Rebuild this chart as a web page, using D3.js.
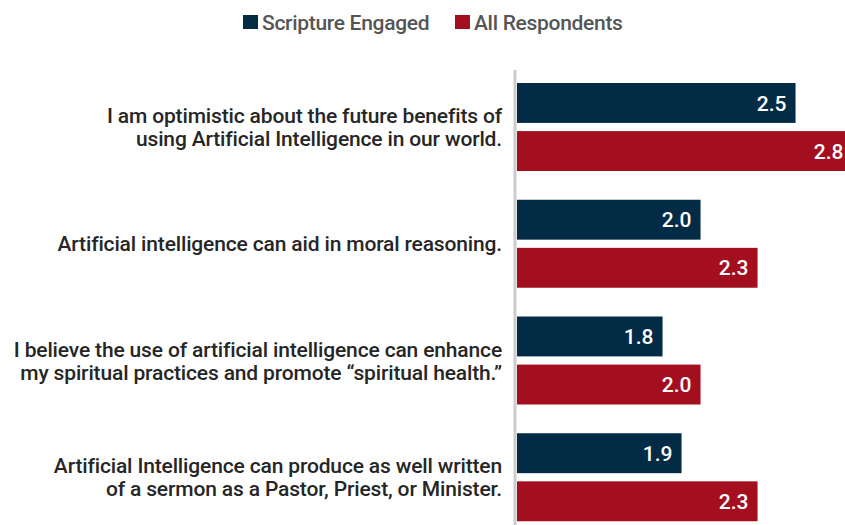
<!DOCTYPE html>
<html>
<head>
<meta charset="utf-8">
<script src="https://cdn.jsdelivr.net/npm/d3@7"></script>
<style>
  body { margin: 0; background: #fff; }
  svg { display: block; font-family: "Roboto", "Liberation Sans", sans-serif; }
</style>
</head>
<body>
<svg></svg>
<script>
// chart data
const categories = [
  "I am optimistic about the future benefits of\nusing Artificial Intelligence in our world.",
  "Artificial intelligence can aid in moral reasoning.",
  "I believe the use of artificial intelligence can enhance\nmy spiritual practices and promote \u201cspiritual health.\u201d",
  "Artificial Intelligence can produce as well written\nof a sermon as a Pastor, Priest, or Minister."
];
const seriesNames = ["Scripture Engaged", "All Respondents"];
const scriptureEngaged = [2.5, 2.0, 1.8, 1.9];
const allRespondents = [2.8, 2.3, 2.0, 2.3];

const colors = ["#032b46", "#a30f1e"];

const width = 845, height = 525;
const margin = { top: 70, left: 517, right: 0, bottom: 0 };

const svg = d3.select("svg")
    .attr("width", width)
    .attr("height", height);

const series = [scriptureEngaged, allRespondents];

const xScale = d3.scaleLinear().domain([1.034, 2.8]).range([margin.left, margin.left + 1.766 * 190]);
const yScale = d3.scaleBand().domain(d3.range(categories.length)).range([66, 533]);
const sub = d3.scaleBand().domain(d3.range(series.length)).range([0, 88]).paddingInner(0.17);

// vertical axis line
svg.append("line")
    .attr("x1", 515).attr("x2", 515)
    .attr("y1", 70).attr("y2", height)
    .attr("stroke", "#cccccc")
    .attr("stroke-width", 3);

const groups = svg.selectAll(".grp")
  .data(categories)
  .join("g")
    .attr("class", "grp")
    .attr("transform", (d, i) => `translate(0,${yScale(i) + 17})`);

series.forEach((vals, s) => {
  groups.append("rect")
    .attr("x", xScale.range()[0])
    .attr("y", sub(s))
    .attr("width", (d, i) => xScale(vals[i]) - xScale.range()[0])
    .attr("height", sub.bandwidth())
    .attr("fill", colors[s]);

  groups.append("text")
    .attr("x", (d, i) => xScale(vals[i]) - 9)
    .attr("y", sub(s) + sub.bandwidth() / 2)
    .attr("dy", "0.36em")
    .attr("text-anchor", "end")
    .attr("fill", "#fff")
    .style("font-size", "21px")
    .style("font-weight", 500)
    .text((d, i) => vals[i].toFixed(1));
});

// category labels
groups.each(function(d) {
  const lines = d.split("\n");
  const t = d3.select(this).append("text")
    .attr("text-anchor", "end")
    .attr("fill", "#262626")
    .style("font-size", "21px")
    .style("font-weight", 500)
    .style("letter-spacing", "-0.15px");
  const mid = 44;
  lines.forEach((ln, k) => {
    t.append("tspan")
      .attr("x", 502)
      .attr("y", mid + (k - (lines.length - 1) / 2) * 23)
      .attr("dy", "0.36em")
      .text(ln);
  });
});

// legend
const legend = svg.append("g");
const legendX = [243, 455];
seriesNames.forEach((name, i) => {
  legend.append("rect")
    .attr("x", legendX[i]).attr("y", 15)
    .attr("width", 15).attr("height", 14)
    .attr("fill", colors[i]);
  legend.append("text")
    .attr("x", legendX[i] + 19).attr("y", 22)
    .attr("dy", "0.36em")
    .attr("fill", "#555")
    .style("font-size", "21px")
    .style("font-weight", 500)
    .style("letter-spacing", "-0.3px")
    .text(name);
});
</script>
</body>
</html>
